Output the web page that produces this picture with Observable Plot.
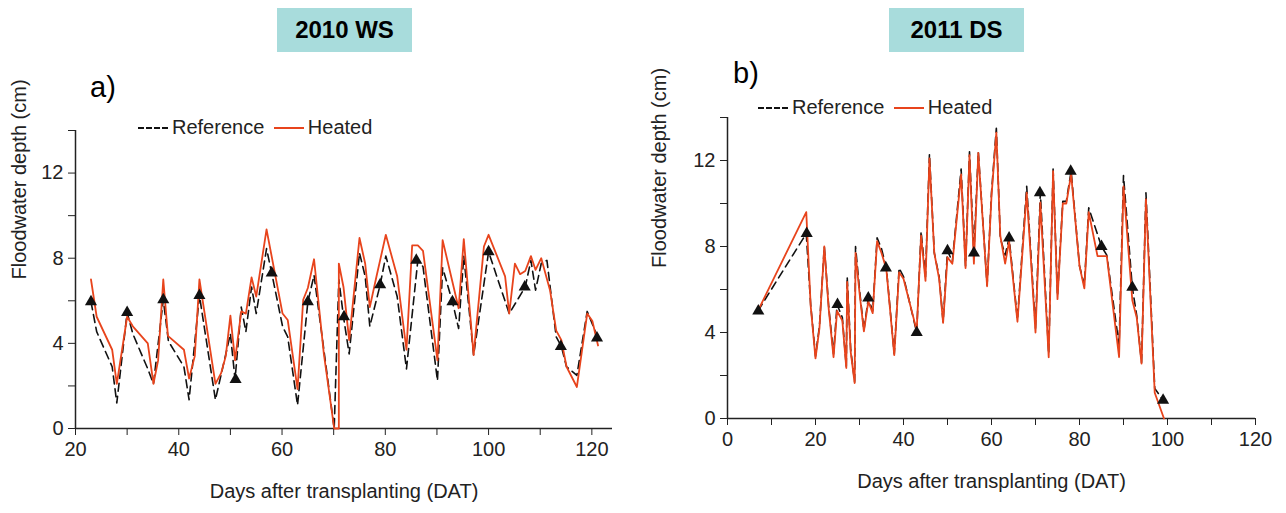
<!DOCTYPE html>
<html><head><meta charset="utf-8">
<script src="https://cdn.jsdelivr.net/npm/d3@7"></script>
<script src="https://cdn.jsdelivr.net/npm/@observablehq/plot@0.6"></script>
<style>
body{margin:0;width:1286px;height:513px;background:#fff;font-family:"Liberation Sans",Arial,sans-serif;position:relative;overflow:hidden}
.pl{position:absolute;top:0;z-index:1}
.tag{position:absolute;z-index:2;background:#a8dcdc;font-weight:bold;font-size:24px;text-align:center;line-height:44px;height:44px}
.lab{position:absolute;z-index:2;font-size:29px}
.leg{position:absolute;z-index:2;font-size:20px;display:flex;align-items:center;gap:4px;color:#222}
.sw{display:inline-block;width:30px;height:0}
</style></head><body>
<div class="tag" style="left:277px;top:8px;width:135px">2010 WS</div>
<div class="tag" style="left:889px;top:8px;width:135px">2011 DS</div>
<div class="lab" style="left:90px;top:71px">a)</div>
<div class="lab" style="left:733px;top:57px">b)</div>
<div class="leg" style="left:138px;top:116px"><span class="sw" style="border-top:2px dashed #111"></span>Reference&nbsp;<span class="sw" style="border-top:2px solid #e8441c"></span>Heated</div>
<div class="leg" style="left:758px;top:96px"><span class="sw" style="border-top:2px dashed #111"></span>Reference&nbsp;<span class="sw" style="border-top:2px solid #e8441c"></span>Heated</div>
<div id="a" class="pl" style="left:0"></div>
<div id="b" class="pl" style="left:640px"></div>
<script>
const aHeatX=[23,24.1,27.1,28,30,31.1,34,35.1,36,37,37.9,41,42,43.1,44,47.1,48.2,49.1,50,50.9,52.1,53,54.1,55,57,60.1,61.1,63,64.1,65,66.2,68.1,70.1,71,71,71.9,73,75,76.1,77,78.3,80.1,82.3,84.1,85.2,86.3,87.3,90.1,91.1,94.2,95.2,97.1,99.1,100,103.2,104,105.1,106.1,107.1,108.2,109.1,110.2,111.9,113.1,114.1,115.1,117.1,119.1,120.1,121.2];
const aHeatY=[7.0,5.25,3.7,2.1,5.25,4.8,4.0,2.1,3.2,7.0,4.35,3.7,2.35,3.4,7.0,2.1,2.6,3.4,5.3,3.2,5.5,5.4,7.1,6.2,9.35,5.4,5.1,1.85,6.05,6.6,7.95,3.5,0,0,7.75,6.65,4.15,8.95,7.75,5.7,7.15,9.1,7.15,3.7,8.6,8.6,8.35,3.2,8.85,5.65,8.9,3.45,8.55,9.1,7.15,5.4,7.75,7.25,7.4,8.1,7.45,8.0,6.5,4.6,4.15,2.9,1.95,5.4,5.05,3.9];
const aRefX=[23,24.1,27.1,28,30,31.1,34,35.1,37,38,41,42,44,47.1,50,50.9,52.1,53,54.1,55,57,58,60.1,61.1,63,65,66.2,70.1,71,71.9,73,75,76.1,77,79,80.1,82.3,84.1,86.3,87.3,90.1,91.1,93,94.2,95.2,97.1,100,104,107.1,108.2,109.1,110.2,111.3,113.1,114.1,115.1,117.1,119.1,121.2];
const aRefY=[5.95,4.55,2.9,1.2,5.45,4.45,2.8,2.1,6.05,4.1,2.9,1.35,6.25,1.35,4.45,2.3,5.7,4.55,6.65,5.4,8.45,7.3,4.8,4.3,1.1,5.95,7.2,0,7.0,5.25,3.5,8.25,7.15,4.8,6.75,8.1,6.2,2.8,7.9,7.6,2.25,7.55,5.95,4.7,8.1,3.45,8.3,5.4,6.65,7.9,6.5,7.75,7.9,4.3,3.85,2.9,2.5,5.5,4.25];
const aTriX=[23,30,37,44,51,58,65,72,79,86,93,100,107,114,121];
const aTriY=[5.95,5.45,6.05,6.25,2.3,7.3,5.95,5.25,6.75,7.9,5.95,8.3,6.65,3.85,4.25];

const bHeatX=[6.9,17.9,18.9,20,20.9,22,23,24.1,24.9,26.1,27,27.2,28,28.9,29.1,30,31,32,33,34,35,36.1,37.9,39,40,43,44,45,45.9,47,48.1,49,50,51.1,53.1,54.1,55,56,57,59,60,61.1,62,63.1,64,65.9,68,70,71.1,73,74,75,76.2,77,78.1,80,81.1,82.1,84.1,86.2,89,90,92,93,94.1,95.1,97.1,99.2];
const bHeatY=[5.0,9.6,5.25,2.8,4.2,8.0,5.1,2.85,5.0,4.55,2.35,6.35,3.1,1.65,7.7,5.85,4.05,5.45,4.9,8.25,7.7,6.95,2.95,6.8,6.5,4.1,8.5,6.4,12.1,7.7,6.5,4.45,7.5,7.2,11.35,7.0,12.25,7.2,12.35,6.15,10.35,13.3,8.5,7.2,8.25,4.5,10.5,4.0,10.05,2.85,11.5,5.55,10.0,10.0,11.35,7.1,6.05,9.6,7.55,7.55,2.85,10.8,5.5,4.7,2.55,10.2,1.2,0];
const bRefX=[6.9,17.9,18.9,20,20.9,22,23,24.1,24.9,26.1,27,27.2,28,28.9,29.1,30,31,32,33,34,35,36.1,37.9,39,40,43,44,45,45.9,47,48.1,49,50,51.1,53.1,54.1,55,56,57,59,60,61.1,62,63.1,64,65.9,68,70,71.1,73,74,75,76.2,77,78.1,80,81.1,82.1,85,86.2,89,90,92,93,94.1,95.1,97.1,99];
const bRefY=[5.0,8.6,5.3,2.9,4.3,8.0,5.2,3.0,5.3,4.7,2.4,6.6,3.2,1.7,8.0,6.0,4.1,5.6,5.0,8.4,7.9,7.0,3.0,7.0,6.6,4.0,8.7,6.6,12.3,7.7,6.6,4.5,7.8,7.3,11.6,7.1,12.4,7.7,12.4,6.2,10.5,13.5,8.4,7.6,8.4,4.6,10.8,4.2,10.5,3.0,11.6,5.7,10.1,10.1,11.5,7.1,6.2,9.8,8.0,7.6,3.4,11.3,6.1,4.8,2.6,10.5,1.4,0.85];
const bTriX=[7,18,25,32,36,43,50,56,64,71,78,85,92,99];
const bTriY=[5.0,8.6,5.3,5.6,7.0,4.0,7.8,7.7,8.4,10.5,11.5,8.0,6.1,0.85];

const zip=(xs,ys)=>xs.map((x,i)=>({x,y:ys[i]}));
function panel(o){
  const xt=d3.range(o.xd[0],o.xd[1]+0.1,10), yt=d3.range(0,14.1,2);
  return Plot.plot({
    width:o.w,height:513,marginLeft:o.ml,marginRight:o.mr,marginTop:o.mt,marginBottom:o.mb,
    style:{fontFamily:"Liberation Sans, Arial, sans-serif",fontSize:"20px",color:"#222",background:"transparent",overflow:"visible"},
    x:{domain:o.xd,label:null},
    y:{domain:[0,14],label:null},
    marks:[
      Plot.axisX({ticks:xt,tickFormat:d=>(d%20===0?d:""),tickSize:7,tickPadding:6,fontSize:20,label:null}),
      Plot.axisY({ticks:yt,tickFormat:d=>(d%4===0?d:""),tickSize:7,tickPadding:5,fontSize:20,label:null}),
      Plot.ruleY([0],{stroke:"#222",strokeWidth:1.5}),
      Plot.ruleX([o.xd[0]],{stroke:"#222",strokeWidth:1.5}),
      Plot.line(zip(o.rx,o.ry),{x:"x",y:"y",stroke:"#111",strokeWidth:1.6,strokeDasharray:"8,5"}),
      Plot.line(zip(o.hx,o.hy),{x:"x",y:"y",stroke:"#e8441c",strokeWidth:1.8}),
      Plot.dot(zip(o.tx,o.ty),{x:"x",y:"y",symbol:"triangle",fill:"#111",r:4.5}),
      Plot.text(["Days after transplanting (DAT)"],{frameAnchor:"bottom",dy:69,fontSize:20}),
      Plot.text(["Floodwater depth (cm)"],{frameAnchor:"left",dx:-o.ml+19,rotate:-90,fontSize:20})
    ]
  });
}
document.getElementById("a").append(panel({w:640,ml:75,mr:28,mt:130,mb:85,xd:[20,124],hx:aHeatX,hy:aHeatY,rx:aRefX,ry:aRefY,tx:aTriX,ty:aTriY}));
document.getElementById("b").append(panel({w:646,ml:87,mr:31,mt:117,mb:95,xd:[0,120],hx:bHeatX,hy:bHeatY,rx:bRefX,ry:bRefY,tx:bTriX,ty:bTriY}));
</script></body></html>
